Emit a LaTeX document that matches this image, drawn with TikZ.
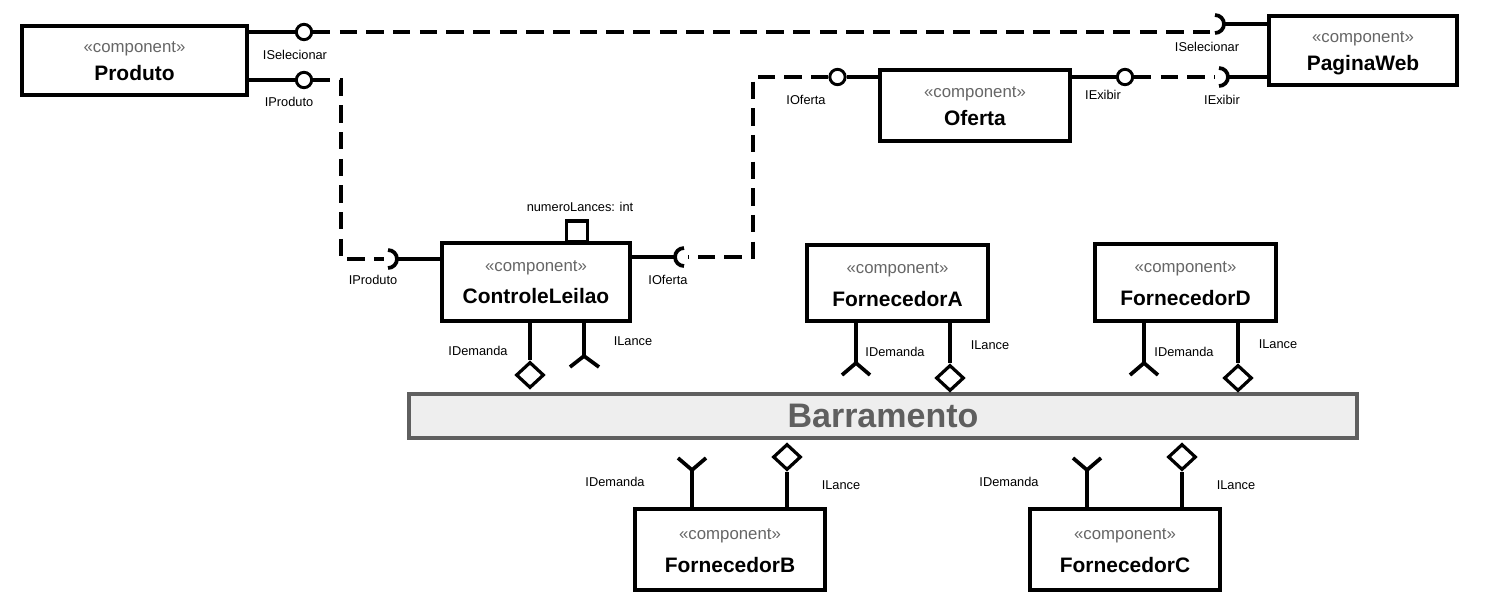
\documentclass[tikz,border=0pt]{standalone}
\usepackage{fontspec}
\setmainfont{Liberation Sans}
\usetikzlibrary{shapes.geometric,calc}
\definecolor{stgray}{HTML}{666666}
\definecolor{busgray}{HTML}{5F5F5F}
\definecolor{busfill}{HTML}{EEEEEE}
\tikzset{
  compbox/.style={draw, line width=3pt, fill=white, inner sep=0pt},
  stereo/.style={inner sep=0pt, text=stgray, font=\fontsize{12.6pt}{14pt}\selectfont},
  cname/.style={inner sep=0pt, font=\bfseries\fontsize{15.7pt}{18pt}\selectfont},
  lbl/.style={inner sep=0pt, font=\fontsize{9.6pt}{11pt}\selectfont},
  conn/.style={line width=2.8pt},
  dashconn/.style={line width=2.8pt, dash pattern=on 13pt off 7pt},
  ball/.style={circle, draw, line width=2.2pt, fill=white, minimum size=11.5pt, inner sep=0pt},
  dia/.style={diamond, draw, line width=2.4pt, fill=white, minimum width=21pt, minimum height=19.5pt, inner sep=0pt},
  portbox/.style={draw, line width=2.6pt, fill=white, minimum width=16pt, minimum height=15.5pt, inner sep=0pt},
  bus/.style={draw=busgray, fill=busfill, line width=3pt, inner sep=0pt, text=busgray,
    font=\bfseries\fontsize{25.5pt}{28pt}\selectfont}
}
\newcommand\umlcomp[8]{%
  \node[compbox, minimum width={(#4-#2-4)*0.75pt}, minimum height={(#5-#3-4)*0.75pt}] (#1) at ({(#2+#4)/2},{(#3+#5)/2}) {};
  \node[stereo, anchor=base] (#1-s) at ({(#2+#4)/2},{(#3+#5)/2+#7}) {«component»};
  \node[cname, anchor=base] (#1-n) at ({(#2+#4)/2},{(#3+#5)/2+#8}) {#6};
}
\begin{document}
\begin{tikzpicture}[x=0.75pt,y=-0.75pt]
\useasboundingbox (0,0) rectangle (1502,615);

% components
\umlcomp{prod}{20}{24}{249}{97}{Produto}{-8}{20}
\umlcomp{web}{1267}{14}{1459}{87}{PaginaWeb}{-8}{20}
\umlcomp{ofe}{878}{68}{1072}{143}{Oferta}{-8}{20}
\umlcomp{cl}{440}{241}{632}{323}{ControleLeilao}{-11}{21}
\umlcomp{fa}{805}{243}{990}{323}{FornecedorA}{-10}{23}
\umlcomp{fd}{1093}{242}{1278}{323}{FornecedorD}{-10}{23}
\umlcomp{fb}{633}{507}{827}{592}{FornecedorB}{-10}{23}
\umlcomp{fc}{1028}{507}{1222}{592}{FornecedorC}{-10}{23}

% bus
\node[bus, minimum width={(1359-407-4)*0.75pt}, minimum height={(440-392-4)*0.75pt}] (bus) at (883,416) {Barramento};

% port on ControleLeilao
\node[portbox] (clport) at (577,231.5) {};
\node[lbl] (clportl) at (580,207) {numeroLances: int};

% Produto provided interfaces
\node[ball] (bsel) at (304,32) {};
\draw[conn] (prod.east |- bsel) -- (bsel);
\node[lbl] (lsel1) at (295,55) {ISelecionar};
\node[ball] (bprod) at (304,80) {};
\draw[conn] (prod.east |- bprod) -- (bprod);
\node[lbl] (lprod1) at (289,102) {IProduto};

% PaginaWeb required interfaces
\coordinate (swebsel) at (1215,24);
\draw[conn] ([xshift=6.75pt]swebsel) -- (web.west |- swebsel);
\draw[conn] ([yshift=6.75pt]swebsel) arc[start angle=90, end angle=-90, radius=6.75pt];
\node[lbl] (lsel2) at (1207,47) {ISelecionar};
\coordinate (swebex) at (1219,77);
\draw[conn] ([xshift=6.75pt]swebex) -- (web.west |- swebex);
\draw[conn] ([yshift=6.75pt]swebex) arc[start angle=90, end angle=-90, radius=6.75pt];
\node[lbl] (lex2) at (1222,100) {IExibir};

% Oferta interfaces
\node[ball] (bof) at (837.5,77) {};
\draw[conn] (bof) -- (ofe.west |- bof);
\node[lbl] (lof1) at (806,100) {IOferta};
\node[ball] (bex) at (1125,77) {};
\draw[conn] (ofe.east |- bex) -- (bex);
\node[lbl] (lex1) at (1103,95) {IExibir};

% ControleLeilao required interfaces
\coordinate (sclpr) at (388,259);
\draw[conn] ([xshift=6.75pt]sclpr) -- (cl.west |- sclpr);
\draw[conn] ([yshift=6.75pt]sclpr) arc[start angle=90, end angle=-90, radius=6.75pt];
\node[lbl] (lprod2) at (373,280) {IProduto};
\coordinate (sclof) at (684,257);
\draw[conn] ([xshift=-6.75pt]sclof) -- (cl.east |- sclof);
\draw[conn] ([yshift=6.75pt]sclof) arc[start angle=90, end angle=270, radius=6.75pt];
\node[lbl] (lof2) at (668,280) {IOferta};

% dashed assembly connectors
\draw[dashconn] (bsel.east) -- (swebsel |- bsel);
\draw[dashconn] (bex.east) -- ([xshift=-3pt]swebex);
\coordinate (k1) at (341,80);
\coordinate (k2) at (341,259);
\draw[dashconn] (bprod.east) -- (k1) -- (k2) -- ([xshift=-3pt]sclpr);
\coordinate (k3) at (753,77);
\coordinate (k4) at (753,257);
\draw[dashconn] (bof.west) -- (k3) -- (k4) -- ([xshift=3pt]sclof);

% ControleLeilao bus interfaces
\node[dia] (cldem) at (530,375) {};
\draw[conn] (cl.south -| cldem) -- (cldem.north);
\node[lbl] (lcldem) at (478,351) {IDemanda};
\coordinate (cllan) at (584,356);
\draw[conn] (cl.south -| cllan) -- (cllan);
\draw[conn] ([shift={(-14,11)}]cllan) -- (cllan) -- ([shift={(15,11)}]cllan);
\node[lbl] (lcllan) at (633,341) {ILance};

% FornecedorA
\coordinate (fadem) at (856,363);
\draw[conn] (fa.south -| fadem) -- (fadem);
\draw[conn] ([shift={(-14,12)}]fadem) -- (fadem) -- ([shift={(14,12)}]fadem);
\node[lbl] (lfadem) at (895,352) {IDemanda};
\node[dia] (falan) at (950,378) {};
\draw[conn] (fa.south -| falan) -- (falan.north);
\node[lbl] (lfalan) at (990,345) {ILance};

% FornecedorD
\coordinate (fddem) at (1144,363);
\draw[conn] (fd.south -| fddem) -- (fddem);
\draw[conn] ([shift={(-14,12)}]fddem) -- (fddem) -- ([shift={(14,12)}]fddem);
\node[lbl] (lfddem) at (1184,352) {IDemanda};
\node[dia] (fdlan) at (1238,378) {};
\draw[conn] (fd.south -| fdlan) -- (fdlan.north);
\node[lbl] (lfdlan) at (1278,344) {ILance};

% FornecedorB
\coordinate (fbdem) at (692,470);
\draw[conn] (fb.north -| fbdem) -- (fbdem);
\draw[conn] ([shift={(-14,-12)}]fbdem) -- (fbdem) -- ([shift={(14,-12)}]fbdem);
\node[lbl] (lfbdem) at (615,482) {IDemanda};
\node[dia] (fblan) at (787,457) {};
\draw[conn] (fb.north -| fblan) -- (fblan.south);
\node[lbl] (lfblan) at (841,485) {ILance};

% FornecedorC
\coordinate (fcdem) at (1087,470);
\draw[conn] (fc.north -| fcdem) -- (fcdem);
\draw[conn] ([shift={(-14,-12)}]fcdem) -- (fcdem) -- ([shift={(14,-12)}]fcdem);
\node[lbl] (lfcdem) at (1009,482) {IDemanda};
\node[dia] (fclan) at (1182,457) {};
\draw[conn] (fc.north -| fclan) -- (fclan.south);
\node[lbl] (lfclan) at (1236,485) {ILance};
\end{tikzpicture}
\end{document}
